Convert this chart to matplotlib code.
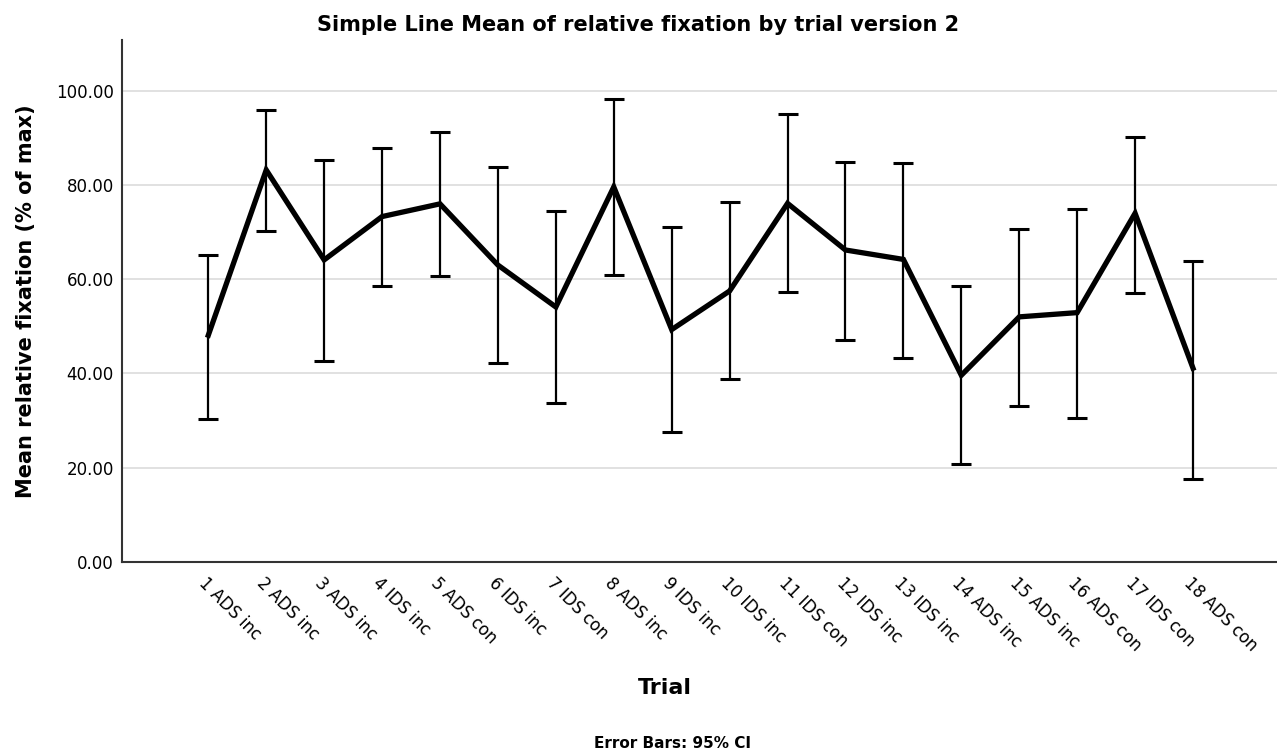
import matplotlib
matplotlib.use("Agg")
import matplotlib.pyplot as plt
import numpy as np

# Trial labels and values (mean and 95% CI bounds)
trials = [
    "1 ADS inc", "2 ADS inc", "3 ADS inc", "4 IDS inc", "5 ADS con",
    "6 IDS inc", "7 IDS con", "8 ADS inc", "9 IDS inc", "10 IDS inc",
    "11 IDS con", "12 IDS inc", "13 IDS inc", "14 ADS inc", "15 ADS inc",
    "16 ADS con", "17 IDS con", "18 ADS con",
]
means = [48.1, 83.2, 64.1, 73.3, 76.0, 63.0, 54.1, 79.6, 49.3, 57.5,
         76.1, 66.2, 64.2, 39.6, 52.0, 52.9, 74.0, 41.1]
ci_upper = [65.2, 95.9, 85.3, 87.8, 91.3, 83.9, 74.5, 98.2, 71.0, 76.4,
            95.0, 84.9, 84.7, 58.6, 70.7, 74.9, 90.2, 63.9]
ci_lower = [30.4, 70.2, 42.6, 58.6, 60.6, 42.1, 33.6, 60.9, 27.6, 38.7,
            57.2, 47.0, 43.3, 20.7, 33.1, 30.6, 57.0, 17.5]
y_ticks = [0, 20, 40, 60, 80, 100]

x = np.arange(1, len(trials) + 1)
m = np.array(means)
err = np.vstack([m - np.array(ci_lower), np.array(ci_upper) - m])

fig = plt.figure(figsize=(12.77, 7.56), dpi=100)
ax = fig.add_axes([122 / 1277, 1 - 561.7 / 756, 1 - 122 / 1277, (561.7 - 40) / 756])

ax.errorbar(x, m, yerr=err, fmt="none", ecolor="black", elinewidth=1.6,
            capsize=7, capthick=2.2, zorder=3)
ax.plot(x, m, color="black", linewidth=3.8, solid_joinstyle="miter", zorder=4)

ax.set_xlim(-0.49, 19.45)
ax.set_ylim(0, 110.8)
ax.set_yticks(y_ticks)
ax.set_yticklabels([f"{v:.2f}" for v in y_ticks], fontsize=12)
ax.yaxis.grid(True, color="#dcdcdc", linewidth=1.2)
ax.set_axisbelow(True)
ax.tick_params(axis="both", length=0, pad=6)

ax.set_xticks(x)
ax.set_xticklabels(trials, rotation=-45, ha="left", va="top",
                   rotation_mode="anchor", fontsize=12)
ax.tick_params(axis="x", pad=9)

for side in ["top", "right"]:
    ax.spines[side].set_visible(False)
for side in ["left", "bottom"]:
    ax.spines[side].set_color("#333333")
    ax.spines[side].set_linewidth(1.5)

ax.set_ylabel("Mean relative fixation (% of max)", fontsize=15,
              fontweight="bold", labelpad=14)

fig.text(0.5, 1 - 25 / 756, "Simple Line Mean of relative fixation by trial version 2",
         ha="center", va="center", fontsize=15, fontweight="bold")
fig.text(665 / 1277, 1 - 688 / 756, "Trial", ha="center", va="center",
         fontsize=16, fontweight="bold")
fig.text(672 / 1277, 1 - 743 / 756, "Error Bars: 95% CI", ha="center",
         va="center", fontsize=11, fontweight="semibold")

fig.savefig("out.png", dpi=100)
